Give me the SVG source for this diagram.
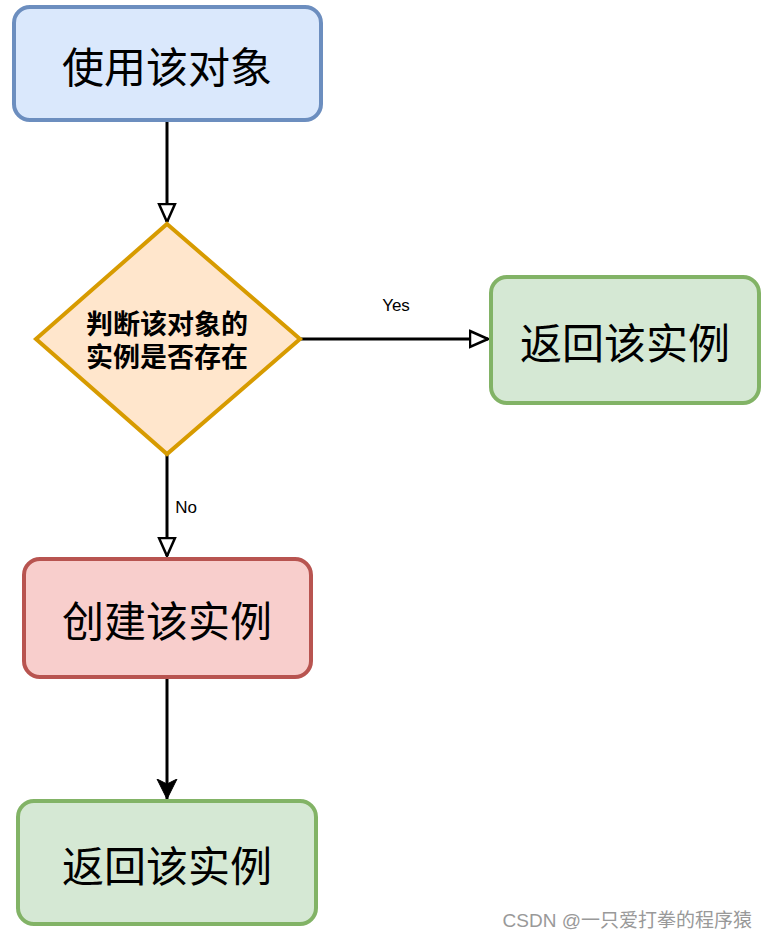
<svg xmlns="http://www.w3.org/2000/svg" width="768" height="939" viewBox="0 0 768 939">
<style>
.node{stroke-width:4}
.t{font-family:"Noto Sans CJK SC","Noto Sans",sans-serif;font-size:42px;fill:#000;text-anchor:middle;dominant-baseline:central}
.tb{font-family:"Noto Sans CJK SC","Noto Sans",sans-serif;font-size:27px;font-weight:bold;fill:#000;text-anchor:middle;dominant-baseline:central}
.lbl{font-family:"Liberation Sans",Arial,sans-serif;font-size:17px;fill:#000;text-anchor:middle;dominant-baseline:central}
.edge{stroke:#000;stroke-width:3;fill:none}
.wm{font-family:"Liberation Sans","Noto Sans CJK SC",sans-serif;font-size:19px;fill:#999;text-anchor:end;dominant-baseline:central}
</style>
<defs>
<marker id="hollow" viewBox="0 0 20 20" refX="19" refY="10" markerWidth="20" markerHeight="20" markerUnits="userSpaceOnUse" orient="auto">
<path d="M1,2 L19,10 L1,18 Z" fill="#fff" stroke="#000" stroke-width="2.5"/>
</marker>
<marker id="filled" viewBox="0 0 20 24" refX="20" refY="12" markerWidth="20" markerHeight="24" markerUnits="userSpaceOnUse" orient="auto">
<path d="M0,2 L20,12 L0,22 L5,12 Z" fill="#000" stroke="#000" stroke-width="1"/>
</marker>
</defs>
<g id="connectors">
<path class="edge" d="M167,120 L167,222" marker-end="url(#hollow)"/>
<path class="edge" d="M300,339 L488,339" marker-end="url(#hollow)"/>
<path class="edge" d="M167,454 L167,556" marker-end="url(#hollow)"/>
<path class="edge" d="M167,677 L167,799" marker-end="url(#filled)"/>
<text class="lbl" x="396" y="305">Yes</text>
<text class="lbl" x="186" y="507">No</text>
</g>
<g id="use-object">
<rect class="node" x="14" y="7" width="307" height="113" rx="16" fill="#dae8fc" stroke="#6c8ebf"/>
<text class="t" x="167" y="64">使用该对象</text>
</g>
<g id="check-exists">
<path class="node" d="M167,224 L300,339 L167,454 L36,339 Z" fill="#ffe6cc" stroke="#d79b00"/>
<text class="tb" x="167" y="322">判断该对象的</text>
<text class="tb" x="167" y="355">实例是否存在</text>
</g>
<g id="return-right">
<rect class="node" x="491" y="277" width="268" height="126" rx="16" fill="#d5e8d4" stroke="#82b366"/>
<text class="t" x="625" y="340">返回该实例</text>
</g>
<g id="create-instance">
<rect class="node" x="24" y="559" width="287" height="118" rx="16" fill="#f8cecc" stroke="#b85450"/>
<text class="t" x="167" y="618">创建该实例</text>
</g>
<g id="return-bottom">
<rect class="node" x="18" y="801" width="298" height="123" rx="16" fill="#d5e8d4" stroke="#82b366"/>
<text class="t" x="167" y="863">返回该实例</text>
</g>
<text class="wm" x="752" y="920">CSDN @一只爱打拳的程序猿</text>
</svg>
